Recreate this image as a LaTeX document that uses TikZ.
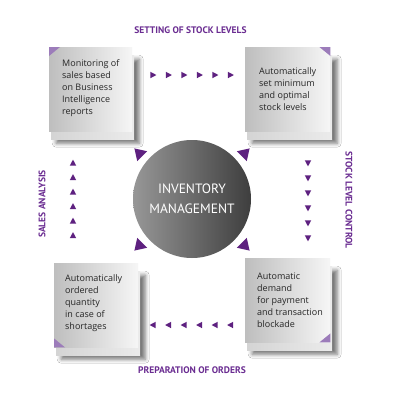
\documentclass[tikz,border=0pt]{standalone}
\usepackage{fontspec}
\setmainfont{Open Sans}
\newfontfamily\labfont{PT Sans}
\usetikzlibrary{shadows.blur}
\definecolor{pur}{HTML}{5E2180}
\definecolor{labpur}{HTML}{6A2C91}
\definecolor{cornerpur}{HTML}{9C7CBA}
\definecolor{boxL}{HTML}{BEBEBE}
\definecolor{boxR}{HTML}{F6F6F6}
\definecolor{backL}{HTML}{D4D4D4}
\definecolor{backR}{HTML}{EBEBEB}
\definecolor{circL}{HTML}{979797}
\definecolor{circR}{HTML}{3E3E3E}
\tikzset{
  frontbox/.style={rectangle, inner sep=0pt, minimum width=#1, minimum height=84pt, left color=boxL, right color=boxR, anchor=north west},
  backbox/.style={rectangle, inner sep=0pt, minimum width=#1, minimum height=84pt, left color=backL, right color=backR, anchor=north west,
    blur shadow={shadow xshift=5pt, shadow yshift=-4pt, shadow blur radius=4pt, shadow opacity=55}},
  boxtext/.style={anchor=west, align=left, inner sep=0pt, font=\fontsize{9}{12}\selectfont, text=black!85},
  lab/.style={font=\labfont\bfseries\fontsize{9.5}{11}\selectfont, text=labpur, inner sep=0pt},
}
\newcommand\arr[3]{\fill[pur, shift={(#1,#2)}, rotate=#3] (3.4,0) -- (-2.6,3.2) -- (-2.6,-3.2) -- cycle;}
\newcommand\bigarr[3]{\fill[pur, shift={(#1,#2)}, rotate=#3] (6.5,0) -- (-4.5,7) -- (-4.5,-7) -- cycle;}
\begin{document}
\begin{tikzpicture}[x=1pt,y=-1pt]
\useasboundingbox (0,0) rectangle (400,400);
\fill[white] (0,0) rectangle (400,400);

% top-left box
\node[backbox=83pt] (tlb) at (51,55) {};
\node[frontbox=83pt] (tl) at (49,47) {};
\fill[cornerpur] (tl.north west) -- ++(11,0) -- ++(-11,9) -- cycle;
\node[boxtext] (tlt) at (62,88) {Monitoring of\\sales based\\on Business\\Intelligence\\reports};

% top-right box
\node[backbox=85pt] (trb) at (247,55) {};
\node[frontbox=85pt] (tr) at (245,47) {};
\fill[cornerpur] (tr.north east) -- ++(-11,0) -- ++(11,9) -- cycle;
\node[boxtext] (trt) at (259,89) {Automatically\\set minimum\\and optimal\\stock levels};

% bottom-left box
\node[backbox=84pt] (blb) at (56,271) {};
\node[frontbox=84pt] (bl) at (54,263) {};
\fill[cornerpur] (bl.south west) -- ++(11,0) -- ++(-11,-9) -- cycle;
\node[boxtext] (blt) at (65,303) {Automatically\\ordered\\quantity\\in case of\\shortages};

% bottom-right box
\node[backbox=85pt] (brb) at (247,266) {};
\node[frontbox=85pt] (br) at (245,258) {};
\fill[cornerpur] (br.south east) -- ++(-11,0) -- ++(11,-9) -- cycle;
\node[boxtext] (brt) at (257,300) {Automatic\\demand\\for payment\\and transaction\\blockade};

% central circle
\node[circle, minimum size=118pt, inner sep=0pt, left color=circL, right color=circR] (c) at (192,199) {};
\node[align=center, text=white, font=\labfont\fontsize{13.5}{19.5}\selectfont, inner sep=0pt] (ct) at (192,199) {INVENTORY\\MANAGEMENT};

% big purple arrowheads around circle
\bigarr{139}{153}{135}
\bigarr{245}{153}{45}
\bigarr{139}{246}{-135}
\bigarr{245}{246}{-45}

% small arrow rows
\foreach \x in {153,168.5,184,199.5,215,230.5} {\arr{\x}{75}{0}}
\foreach \x in {153,168.5,184,199.5,215,230.5} {\arr{\x}{325}{180}}
\foreach \y in {163,177.5,192,206.5,221,235.5} {\arr{73}{\y}{90}}
\foreach \y in {163,178,193,208,223,238} {\arr{308}{\y}{-90}}

% labels
\node[lab] (l1) at (190.5,30) {SETTING OF STOCK LEVELS};
\node[lab] (l2) at (192,370) {PREPARATION OF ORDERS};
\node[lab, rotate=90] (l3) at (42,204) {SALES ANALYSIS};
\node[lab, rotate=-90] (l4) at (349,200) {STOCK LEVEL CONTROL};
\end{tikzpicture}
\end{document}
